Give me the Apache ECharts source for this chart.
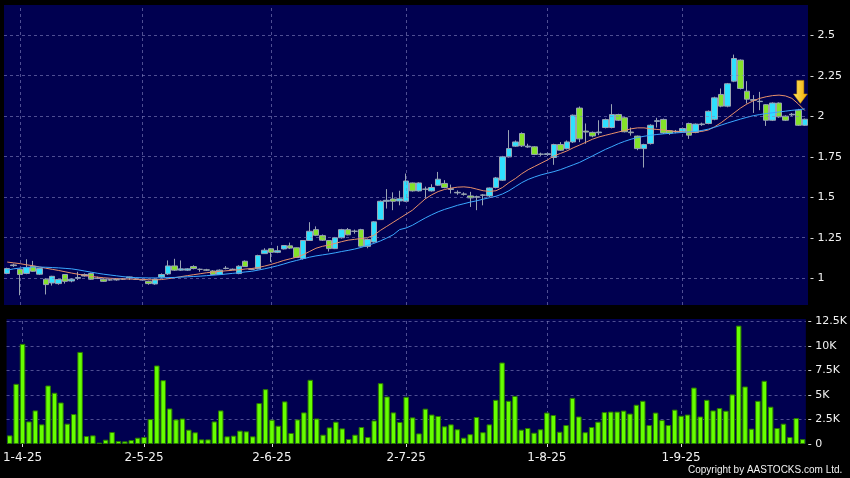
<!DOCTYPE html>
<html><head><meta charset="utf-8">
<script src="https://cdn.jsdelivr.net/npm/echarts@6/dist/echarts.min.js"></script>
<style>html,body{margin:0;padding:0;background:#000;}#c{width:850px;height:478px;}</style>
</head><body><div id="c"></div>
<script>
const dates = [
'28-3-25','31-3-25',
'1-4-25','2-4-25','3-4-25','7-4-25','8-4-25','9-4-25','10-4-25','11-4-25','14-4-25','15-4-25','16-4-25','17-4-25','22-4-25','23-4-25','24-4-25','25-4-25','28-4-25','29-4-25','30-4-25',
'2-5-25','6-5-25','7-5-25','8-5-25','9-5-25','12-5-25','13-5-25','14-5-25','15-5-25','16-5-25','19-5-25','20-5-25','21-5-25','22-5-25','23-5-25','26-5-25','27-5-25','28-5-25','29-5-25','30-5-25',
'2-6-25','3-6-25','4-6-25','5-6-25','6-6-25','9-6-25','10-6-25','11-6-25','12-6-25','13-6-25','16-6-25','17-6-25','18-6-25','19-6-25','20-6-25','23-6-25','24-6-25','25-6-25','26-6-25','27-6-25','30-6-25',
'2-7-25','3-7-25','4-7-25','7-7-25','8-7-25','9-7-25','10-7-25','11-7-25','14-7-25','15-7-25','16-7-25','17-7-25','18-7-25','21-7-25','22-7-25','23-7-25','24-7-25','25-7-25','28-7-25','29-7-25','30-7-25','31-7-25',
'1-8-25','4-8-25','5-8-25','6-8-25','7-8-25','8-8-25','11-8-25','12-8-25','13-8-25','14-8-25','15-8-25','18-8-25','19-8-25','20-8-25','21-8-25','22-8-25','25-8-25','26-8-25','27-8-25','28-8-25','29-8-25',
'1-9-25','2-9-25','3-9-25','4-9-25','5-9-25','8-9-25','9-9-25','10-9-25','11-9-25','12-9-25','15-9-25','16-9-25','17-9-25','18-9-25','19-9-25','22-9-25','23-9-25','24-9-25','25-9-25','26-9-25'
];
const tickLabels = ['1-4-25','2-5-25','2-6-25','2-7-25','1-8-25','1-9-25'];
const priceTicks = [1, 1.25, 1.5, 1.75, 2, 2.25, 2.5];
const volTicks = [0, 2500, 5000, 7500, 10000, 12500];

const opens = [1.03,1.082,1.055,1.03,1.074,1.025,0.994,0.971,0.967,1.023,
0.983,1.0,1.014,1.029,1.0,0.994,0.99,0.992,0.995,1.008,
0.995,0.99,0.981,0.965,1.008,1.027,1.076,1.05,1.05,1.072,
1.055,1.052,1.045,1.023,1.06,1.055,1.029,1.105,1.055,1.058,
1.152,1.182,1.16,1.181,1.20,1.188,1.122,1.233,1.30,1.263,
1.233,1.183,1.25,1.30,1.29,1.30,1.197,1.224,1.362,1.475,
1.489,1.477,1.475,1.588,1.539,1.55,1.539,1.574,1.585,1.548,
1.53,1.52,1.508,1.503,1.512,1.508,1.56,1.605,1.749,1.815,
1.893,1.81,1.811,1.766,1.764,1.745,1.825,1.80,1.841,2.05,
1.908,1.90,1.898,1.93,1.93,2.01,1.99,1.902,1.877,1.80,
1.831,1.968,1.98,1.91,1.903,1.904,1.955,1.90,1.948,1.955,
1.981,2.134,2.062,2.216,2.346,2.154,2.102,2.09,2.071,1.975,
2.081,2.0,2.008,2.037,1.944];
const closes = [1.06,1.078,1.023,1.066,1.043,1.06,0.961,1.012,0.992,0.981,
0.994,1.004,1.023,0.994,1.0,0.981,0.99,0.99,0.995,1.002,
0.994,0.99,0.967,0.994,1.023,1.076,1.05,1.058,1.058,1.06,
1.055,1.05,1.023,1.05,1.062,1.055,1.074,1.072,1.056,1.14,
1.173,1.16,1.17,1.202,1.186,1.128,1.233,1.29,1.265,1.235,
1.183,1.25,1.30,1.268,1.29,1.198,1.239,1.348,1.475,1.481,
1.475,1.49,1.60,1.539,1.588,1.549,1.56,1.611,1.56,1.553,
1.527,1.518,1.496,1.50,1.514,1.557,1.619,1.749,1.80,1.841,
1.817,1.815,1.764,1.765,1.768,1.825,1.79,1.841,2.006,1.86,
1.902,1.878,1.902,1.979,2.01,1.975,1.904,1.898,1.80,1.825,
1.944,1.972,1.897,1.895,1.907,1.924,1.883,1.951,1.952,2.03,
2.113,2.062,2.20,2.356,2.171,2.105,2.098,2.092,1.975,2.081,
1.996,1.975,2.012,1.944,1.981];
const lows = [1.025,1.07,0.895,1.025,1.04,1.02,0.90,0.955,0.96,0.967,
0.975,0.99,1.01,0.99,0.995,0.978,0.985,0.985,0.99,0.99,
0.99,0.985,0.96,0.96,1.0,1.02,1.045,1.045,1.045,1.055,
1.04,1.045,1.02,1.02,1.055,1.05,1.025,1.07,1.05,1.055,
1.15,1.10,1.155,1.178,1.18,1.125,1.115,1.23,1.26,1.23,
1.165,1.18,1.245,1.265,1.275,1.195,1.185,1.22,1.36,1.43,
1.42,1.45,1.47,1.535,1.535,1.49,1.535,1.57,1.555,1.523,
1.515,1.51,1.44,1.42,1.45,1.50,1.555,1.60,1.745,1.81,
1.81,1.805,1.76,1.755,1.755,1.70,1.785,1.795,1.835,1.84,
1.83,1.87,1.883,1.925,1.925,1.97,1.90,1.88,1.79,1.683,
1.825,1.93,1.89,1.885,1.895,1.90,1.86,1.895,1.94,1.95,
1.975,2.055,2.055,2.21,2.165,2.078,2.02,2.037,1.94,1.97,
1.99,1.97,2.0,1.94,1.94];
const highs = [1.065,1.09,1.06,1.117,1.107,1.065,1.0,1.015,0.995,1.025,
1.0,1.04,1.03,1.035,1.01,1.0,0.995,0.998,1.0,1.01,
1.0,0.995,0.985,0.998,1.03,1.11,1.12,1.11,1.062,1.08,
1.06,1.058,1.05,1.055,1.075,1.06,1.08,1.11,1.06,1.145,
1.185,1.185,1.20,1.205,1.22,1.19,1.236,1.346,1.32,1.27,
1.235,1.255,1.305,1.31,1.30,1.305,1.245,1.352,1.48,1.55,
1.53,1.54,1.646,1.59,1.592,1.565,1.58,1.656,1.605,1.578,
1.542,1.53,1.533,1.51,1.52,1.56,1.625,1.755,1.914,1.85,
1.90,1.83,1.815,1.775,1.775,1.83,1.84,1.85,2.01,2.06,
1.955,1.905,1.975,1.985,2.074,2.015,1.995,1.93,1.88,1.83,
1.95,1.99,1.985,1.915,1.915,1.93,1.96,1.955,1.96,2.035,
2.12,2.171,2.205,2.38,2.35,2.216,2.13,2.15,2.075,2.085,
2.085,2.005,2.02,2.045,1.985];
const volumes = [880,6130,10200,2300,3420,2000,5960,5220,4230,2070,
3050,9380,810,880,140,440,1220,300,270,400,
640,710,2540,8000,6500,3620,2500,2600,1460,1190,
470,470,2300,3420,780,850,1360,1290,780,4170,
5590,2470,1860,4340,1120,2500,3220,6540,2600,950,
1690,2270,1590,510,950,1730,710,2400,6200,4840,
3220,2240,4810,2710,1080,3600,3000,2850,1800,2000,
1500,640,1000,2750,1200,2000,4500,8300,4400,4900,
1460,1630,1150,1500,3200,2950,1250,1930,4700,2800,
1200,1730,2270,3250,3300,3300,3400,3100,4000,4400,
1930,3200,2440,1930,3500,2880,3000,5750,2800,4500,
3420,3660,3390,5050,12060,5860,1560,4400,6440,3800,
1630,2070,710,2640,500];
const ma10 = [1.100,1.095,1.090,1.083,1.077,1.070,1.062,1.055,1.048,1.040,
1.032,1.025,1.018,1.012,1.007,1.003,1.000,0.998,0.996,0.995,
0.994,0.993,0.991,0.990,0.992,0.997,1.003,1.010,1.016,1.022,
1.028,1.034,1.038,1.042,1.046,1.049,1.052,1.057,1.060,1.066,
1.075,1.085,1.097,1.110,1.120,1.130,1.145,1.165,1.185,1.197,
1.205,1.215,1.226,1.235,1.240,1.245,1.250,1.265,1.295,1.320,
1.345,1.370,1.395,1.420,1.455,1.490,1.515,1.535,1.548,1.556,
1.562,1.564,1.560,1.550,1.540,1.536,1.540,1.560,1.590,1.615,
1.645,1.670,1.690,1.710,1.730,1.755,1.770,1.785,1.805,1.822,
1.840,1.858,1.872,1.882,1.892,1.902,1.912,1.922,1.928,1.928,
1.922,1.918,1.915,1.910,1.905,1.902,1.900,1.902,1.906,1.915,
1.935,1.960,1.990,2.020,2.050,2.075,2.095,2.110,2.120,2.127,
2.130,2.125,2.110,2.075,2.035];
const ma20 = [1.050,1.058,1.063,1.067,1.069,1.069,1.068,1.066,1.064,1.061,
1.058,1.052,1.045,1.038,1.031,1.025,1.020,1.015,1.010,1.006,
1.004,1.003,1.002,1.002,1.003,1.004,1.005,1.007,1.009,1.011,
1.013,1.016,1.019,1.022,1.026,1.030,1.034,1.039,1.043,1.050,
1.058,1.067,1.077,1.088,1.100,1.110,1.120,1.130,1.138,1.144,
1.150,1.157,1.165,1.172,1.180,1.190,1.203,1.215,1.230,1.248,
1.268,1.300,1.310,1.327,1.350,1.372,1.392,1.410,1.425,1.437,
1.450,1.460,1.470,1.478,1.488,1.497,1.506,1.520,1.540,1.565,
1.590,1.610,1.625,1.638,1.648,1.658,1.670,1.685,1.700,1.715,
1.735,1.755,1.775,1.795,1.812,1.830,1.845,1.858,1.868,1.876,
1.882,1.887,1.891,1.894,1.897,1.900,1.903,1.906,1.912,1.920,
1.932,1.945,1.958,1.970,1.982,1.993,2.003,2.010,2.016,2.021,
2.026,2.031,2.036,2.040,2.045];
const arrowIndex = 123;

const gridLineColor = 'rgba(130,130,190,0.6)';
const lblFont = 'DejaVu Sans';
const candleData = opens.map((o, i) => [o, closes[i], lows[i], highs[i]]);
const dash = {type: [3, 3], color: gridLineColor, width: 1};
const vLines = tickLabels.map(t => ({xAxis: t}));

const chart = echarts.init(document.getElementById('c'), null, {renderer: 'canvas'});
chart.setOption({
  backgroundColor: '#000',
  animation: false,
  grid: [
    {left: 4, top: 5, width: 804, height: 300, show: true, backgroundColor: '#000050', borderWidth: 0},
    {left: 4, top: 319, width: 804, height: 125, show: true, backgroundColor: '#000050', borderWidth: 0}
  ],
  xAxis: [
    {type: 'category', gridIndex: 0, data: dates, boundaryGap: true,
     axisLine: {show: false}, axisTick: {show: false}, axisLabel: {show: false}, splitLine: {show: false}},
    {type: 'category', gridIndex: 1, data: dates, boundaryGap: true,
     axisLine: {show: false},
     axisTick: {show: true, alignWithLabel: true, length: 3, interval: (i, v) => tickLabels.includes(v), lineStyle: {color: '#ddd'}},
     axisLabel: {show: true, interval: (i, v) => tickLabels.includes(v), color: '#f2f2f2', fontFamily: lblFont, fontSize: 12, margin: 8},
     splitLine: {show: false}}
  ],
  yAxis: [
    {type: 'value', gridIndex: 0, position: 'right', min: 0.835, max: 2.686, scale: true,
     axisLine: {show: false}, axisTick: {show: false}, splitLine: {show: false},
     axisLabel: {customValues: priceTicks, color: '#f2f2f2', fontFamily: lblFont, fontSize: 11, margin: 2,
       formatter: v => '- ' + v}},
    {type: 'value', gridIndex: 1, position: 'right', min: 0, max: 12734,
     axisLine: {show: false}, axisTick: {show: false}, splitLine: {show: false},
     axisLabel: {customValues: volTicks, color: '#f2f2f2', fontFamily: lblFont, fontSize: 11, margin: 2,
       formatter: v => v === 0 ? '- 0' : '- ' + (v / 1000) + 'K'}}
  ],
  series: [
    {type: 'candlestick', xAxisIndex: 0, yAxisIndex: 0, data: candleData, barWidth: 6,
     itemStyle: {color: '#2fe0ff', color0: '#84e22a', borderColor: '#9aa4b4', borderColor0: '#9aa4b4', borderColorDoji: '#9aa4b4', borderWidth: 1},
     markLine: {silent: true, symbol: ['none', 'none'], label: {show: false}, lineStyle: dash,
       data: priceTicks.map(v => ({yAxis: v})).concat(vLines)},
     markPoint: {silent: true, label: {show: false},
       data: [{coord: [dates[arrowIndex], highs[arrowIndex]],
         symbol: 'path://M3.5,0 L10.5,0 L10.5,13 L14,13 L7,22 L0,13 L3.5,13 Z',
         symbolSize: [14, 23], symbolOffset: [2, -17],
         itemStyle: {color: new echarts.graphic.LinearGradient(0, 0, 1, 0, [{offset: 0, color: '#ffe866'}, {offset: 1, color: '#f0a800'}]),
           borderColor: '#c88a00', borderWidth: 0.5}}]}},
    {type: 'line', xAxisIndex: 0, yAxisIndex: 0, data: ma10, symbol: 'none', lineStyle: {color: '#e8906a', width: 1}, z: 3},
    {type: 'line', xAxisIndex: 0, yAxisIndex: 0, data: ma20, symbol: 'none', lineStyle: {color: '#3aa8ff', width: 1}, z: 3},
    {type: 'bar', xAxisIndex: 1, yAxisIndex: 1, data: volumes, barWidth: 5.5,
     itemStyle: {color: '#66ff00', borderColor: '#2c7a00', borderWidth: 1},
     markLine: {silent: true, symbol: ['none', 'none'], label: {show: false}, lineStyle: dash, z: 1,
       data: volTicks.filter(v => v > 0).map(v => ({yAxis: v})).concat(vLines)}}
  ],
  graphic: [
    {type: 'text', left: 688, top: 465, z: 100,
     style: {text: 'Copyright by AASTOCKS.com Ltd.', fill: '#f2f2f2', font: '10px "Liberation Sans"'}}
  ]
});
</script></body></html>
